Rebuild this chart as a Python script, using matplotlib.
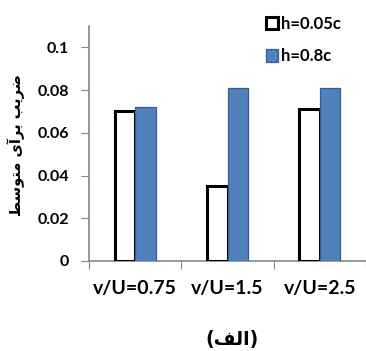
import numpy as np
import matplotlib.pyplot as plt

# mean lift coefficient for each velocity ratio
categories = ['v/U=0.75', 'v/U=1.5', 'v/U=2.5']
h_005c = [0.070, 0.035, 0.071]
h_08c = [0.072, 0.081, 0.081]
series_labels = ['h=0.05c', 'h=0.8c']
y_ticks = [0, 0.02, 0.04, 0.06, 0.08, 0.1]
y_tick_labels = ['0', '0.02', '0.04', '0.06', '0.08', '0.1']

# Persian text written with presentation forms in visual order
# (matplotlib does no Arabic shaping or bidi on its own)
ylabel_logical = ('\uFEBF\uFEAE\uFBFE\uFE90' + ' ' +
                  '\uFE91\uFEAE\uFE81\uFBFC' + ' ' +
                  '\uFEE3\uFE98\uFEEE\uFEB3\uFEC2')
ylabel_text = ylabel_logical[::-1]
caption_text = '(' + '\uFED2\uFEDF\uFE8D' + ')'

plt.rcParams['font.family'] = ['Lato', 'DejaVu Sans']

fig = plt.figure(figsize=(3.66, 3.51), dpi=100)
ax = fig.add_axes([89/366, 1 - 261/351, 277/366, (261 - 26)/351])

x = np.arange(len(categories))
w = 0.222
b1 = ax.bar(x - w/2, h_005c, w, color='white', edgecolor='black', linewidth=2.2,
            label=series_labels[0], zorder=3)
b2 = ax.bar(x + w/2, h_08c, w, color='#4F81BD', edgecolor='#385D8A', linewidth=0.9,
            label=series_labels[1], zorder=3)

ax.set_xlim(-0.5, 2.5)
ax.set_ylim(0, 0.11)
ax.set_yticks(y_ticks)
ax.set_yticklabels(y_tick_labels, fontsize=11.5, fontweight='bold')
ax.set_xticks([-0.5, 0.5, 1.5, 2.5])
ax.set_xticklabels([])
ax.set_xticks(x, minor=True)
ax.set_xticklabels(categories, minor=True, fontsize=14, fontweight='bold')
ax.tick_params(axis='x', which='minor', length=0, pad=14)
ax.tick_params(axis='x', which='major', length=6, color='#868686', direction='out')
ax.tick_params(axis='y', length=6, color='#868686', direction='out', pad=8.5)

for s in ['top', 'right']:
    ax.spines[s].set_visible(False)
for s in ['left', 'bottom']:
    ax.spines[s].set_color('#868686')
    ax.spines[s].set_linewidth(1.2)

fig.text(16/366, 1 - 145/351, ylabel_text, rotation=90, ha='center', va='center',
         fontsize=10.5, fontweight='bold', family=['DejaVu Sans'])

ax.legend([b1, b2], series_labels, loc='upper left',
          bbox_to_anchor=(259/366, 1 - 9/351), bbox_transform=fig.transFigure,
          frameon=False, handlelength=0.75, handleheight=0.75, handletextpad=0.2,
          labelspacing=1.0, borderaxespad=0, prop={'weight': 'bold', 'size': 12})

fig.text(232/366, 1 - 340/351, caption_text, ha='center', va='center',
         fontsize=13.5, fontweight='bold', family=['DejaVu Sans'])

fig.savefig('out.png', dpi=100)
